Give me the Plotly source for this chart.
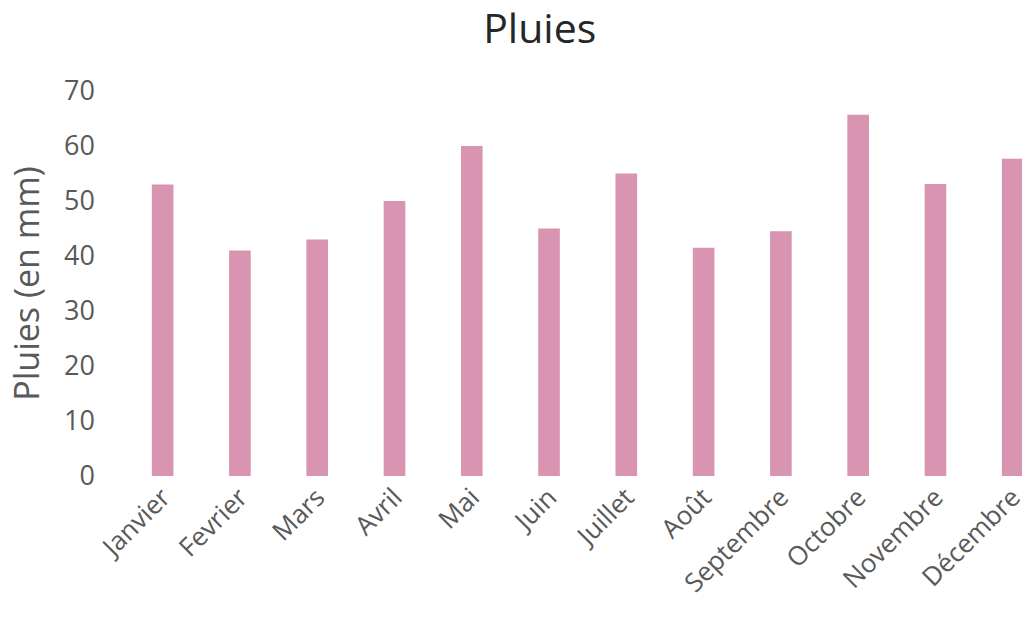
import plotly.graph_objects as go

# Monthly rainfall (mm)
mois = ["Janvier", "Fevrier", "Mars", "Avril", "Mai", "Juin", "Juillet",
        "Août", "Septembre", "Octobre", "Novembre", "Décembre"]
pluies = [53, 41, 43, 50, 60, 45, 55, 41.5, 44.5, 65.7, 53.1, 57.7]

y_ticks = [0, 10, 20, 30, 40, 50, 60, 70]

FONT = "Open Sans"
GREY = "#595959"

fig = go.Figure(
    go.Bar(
        x=list(range(len(mois))),
        y=pluies,
        width=0.28,
        marker=dict(color="#D994B2", line=dict(width=0)),
    )
)

fig.update_layout(
    width=1028,
    height=618,
    paper_bgcolor="white",
    plot_bgcolor="white",
    margin=dict(l=124, r=0, t=91, b=142),
    showlegend=False,
    title=dict(
        text="Pluies",
        x=0.525,
        xref="container",
        xanchor="center",
        y=0.953,
        yanchor="middle",
        font=dict(family=FONT, size=41, color="#262626"),
    ),
    xaxis=dict(
        range=[-0.5, 11.12],
        tickmode="array",
        tickvals=list(range(len(mois))),
        ticktext=mois,
        tickangle=-45,
        ticklabeloverflow="allow",
        showgrid=False,
        zeroline=False,
        showline=False,
        ticks="",
        tickfont=dict(family=FONT, size=26, color=GREY),
    ),
    yaxis=dict(
        range=[0, 70],
        tickmode="array",
        tickvals=y_ticks,
        showgrid=False,
        zeroline=False,
        showline=False,
        ticks="",
        ticklabelstandoff=28,
        tickfont=dict(family=FONT, size=27, color=GREY),
        title=dict(
            text="Pluies (en mm)",
            standoff=14,
            font=dict(family=FONT, size=34, color=GREY),
        ),
    ),
)

fig.write_html("out.html")
